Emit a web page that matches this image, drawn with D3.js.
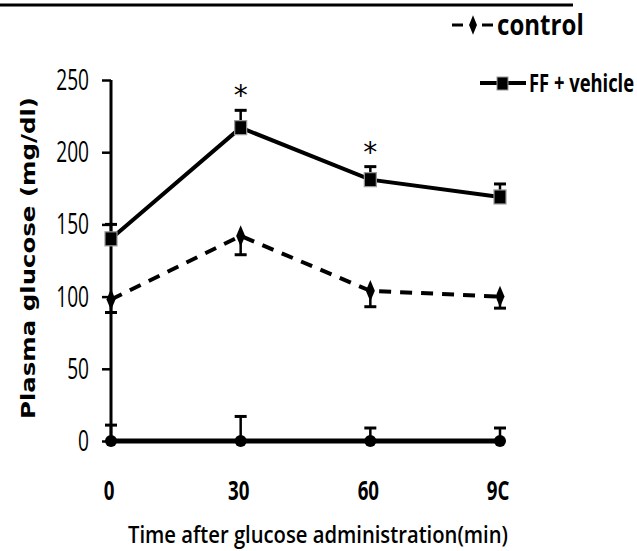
<!DOCTYPE html>
<html><head><meta charset="utf-8">
<script src="https://cdn.jsdelivr.net/npm/d3@7"></script>
<style>body{margin:0;background:#fff}svg{display:block}</style>
</head><body>
<svg id="c" width="637" height="551"></svg>
<script>
const times = [0, 30, 60, 90];
const xTickLabels = ["0", "30", "60", "9C"];
const yTicks = [0, 50, 100, 150, 200, 250];
const controlMean = [98, 142, 104, 100];
const controlSE = [9, 13, 11, 8];
const ffMean = [140, 217, 181, 169];
const ffSE = [10, 12, 9, 9];
const baseMean = [0, 0, 0, 0];
const baseSE = [11, 17, 9, 9];
const sigTimes = [30, 60];

const svg = d3.select("#c");
const x = d3.scaleLinear().domain([0, 90]).range([111, 500]);
const y = d3.scaleLinear().domain([0, 250]).range([441, 80]);
const sans = "'Open Sans', sans-serif";

// top rule
svg.append("line").attr("x1", 0).attr("x2", 573).attr("y1", 5).attr("y2", 5)
  .attr("stroke", "#000").attr("stroke-width", 3);

// y axis
const ySX = 0.66;
const yAxis = svg.append("g").attr("transform", "translate(111,0)")
  .call(d3.axisLeft(y).tickValues(yTicks).tickSize(9).tickPadding(6).tickFormat(d3.format("d")));
yAxis.select(".domain").attr("stroke-width", 3).attr("d", `M0,${y(250)}V${y(0)}`);
yAxis.selectAll(".tick line").attr("stroke-width", 2.5);
yAxis.selectAll(".tick text").attr("font-family", sans).attr("font-size", 29).attr("fill", "#000")
  .attr("x", -22 / ySX).attr("y", 9.5).attr("dy", 0).attr("transform", `scale(${ySX},1)`);

// x tick labels (no axis line in reference other than the baseline series)
const xSX = 0.72;
const xAxis = svg.append("g").attr("transform", "translate(0,478)")
  .call(d3.axisBottom(x).tickValues(times).tickSize(0).tickPadding(0).tickFormat((d,i)=>xTickLabels[i]));
xAxis.select(".domain").remove();
xAxis.selectAll(".tick").each(function(d){
  d3.select(this).attr("transform", `translate(${x(d) - 2},0) scale(${xSX},1)`);
});
xAxis.selectAll(".tick text").attr("font-family", sans).attr("font-size", 26).attr("font-weight", "bold").attr("fill", "#000")
  .attr("y", 22).attr("dy", 0);

// axis titles
svg.append("text").attr("transform", "translate(35,258) rotate(-90)").attr("text-anchor", "middle")
  .attr("font-family", "'DejaVu Sans', Verdana, sans-serif").attr("font-weight", "bold").attr("font-size", 20)
  .attr("textLength", 322).attr("lengthAdjust", "spacingAndGlyphs")
  .text("Plasma glucose (mg/dl)");
svg.append("text").attr("x", 318).attr("y", 543).attr("text-anchor", "middle")
  .attr("font-family", sans).attr("font-size", 23).attr("font-weight", 600)
  .attr("textLength", 380).attr("lengthAdjust", "spacingAndGlyphs")
  .text("Time  after glucose administration(min)");

const line = d3.line().x((d,i)=>x(times[i])).y(d=>y(d));

function errBars(means, ses, dir) {
  const g = svg.append("g").attr("stroke", "#000").attr("stroke-width", 2.5);
  means.forEach((m, i) => {
    const yv = y(m + dir * ses[i]);
    g.append("line").attr("x1", x(times[i])).attr("x2", x(times[i])).attr("y1", y(m)).attr("y2", yv);
    g.append("line").attr("x1", x(times[i]) - 6).attr("x2", x(times[i]) + 6).attr("y1", yv).attr("y2", yv).attr("stroke-width", 3);
  });
}

// baseline series
errBars(baseMean, baseSE, 1);
svg.append("path").datum(baseMean).attr("d", line).attr("fill", "none").attr("stroke", "#000").attr("stroke-width", 5);
svg.selectAll(".bm").data(baseMean).join("circle").attr("cx", (d,i)=>x(times[i])).attr("cy", d=>y(d)).attr("r", 6).attr("fill", "#000");

// control
errBars(controlMean, controlSE, -1);
svg.append("path").datum(controlMean).attr("d", line).attr("fill", "none").attr("stroke", "#000")
  .attr("stroke-width", 4).attr("stroke-dasharray", "12,9");
const diamond = d3.symbol().type(d3.symbolDiamond).size(110);
svg.selectAll(".cm").data(controlMean).join("path").attr("d", diamond)
  .attr("transform", (d,i)=>`translate(${x(times[i])},${y(d)}) scale(0.8,1.1)`).attr("fill", "#000");

// FF + vehicle
errBars(ffMean, ffSE, 1);
svg.append("path").datum(ffMean).attr("d", line).attr("fill", "none").attr("stroke", "#000").attr("stroke-width", 4);
svg.selectAll(".fm").data(ffMean).join("rect").attr("x", (d,i)=>x(times[i]) - 6).attr("y", d=>y(d) - 7)
  .attr("width", 12).attr("height", 14).attr("fill", "#000").attr("stroke", "#999").attr("stroke-width", 1.2);

// significance asterisks
svg.selectAll(".sig").data(sigTimes).join("text")
  .attr("x", d=>x(d)).attr("y", d=>y(ffMean[times.indexOf(d)] + ffSE[times.indexOf(d)]) - 5)
  .attr("text-anchor", "middle").attr("font-family", "'DejaVu Sans', sans-serif").attr("font-size", 28)
  .text("*");

// legend
const lg = svg.append("g");
lg.append("line").attr("x1", 452).attr("x2", 463).attr("y1", 25).attr("y2", 25).attr("stroke", "#000").attr("stroke-width", 3);
lg.append("path").attr("d", diamond).attr("transform", "translate(473,25) scale(0.7,1)").attr("fill", "#000");
lg.append("line").attr("x1", 482).attr("x2", 493).attr("y1", 25).attr("y2", 25).attr("stroke", "#000").attr("stroke-width", 3);
lg.append("g").attr("transform", "translate(497,35) scale(0.86,1)")
  .append("text").attr("font-family", sans).attr("font-weight", "bold").attr("font-size", 28).text("control");
lg.append("line").attr("x1", 480).attr("x2", 526).attr("y1", 83).attr("y2", 83).attr("stroke", "#000").attr("stroke-width", 4);
lg.append("rect").attr("x", 497).attr("y", 77).attr("width", 11).attr("height", 13).attr("fill", "#000").attr("stroke", "#999");
lg.append("g").attr("transform", "translate(529,92) scale(0.735,1)")
  .append("text").attr("font-family", sans).attr("font-weight", "bold").attr("font-size", 25).text("FF + vehicle");
</script>
</body></html>
